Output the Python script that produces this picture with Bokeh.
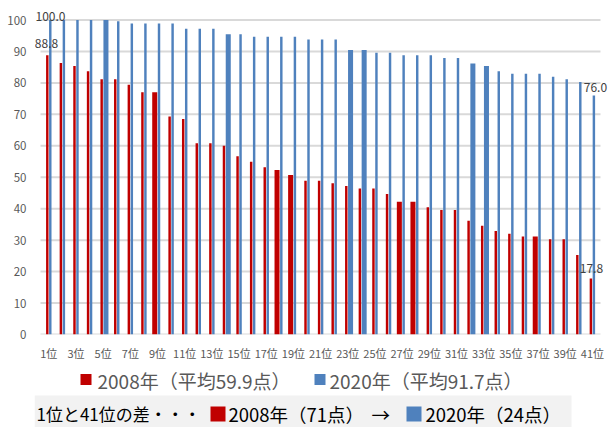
from bokeh.plotting import figure
from bokeh.layouts import column
from bokeh.models import FixedTicker, Label, ColumnDataSource, Range1d
from bokeh.core.properties import value
from bokeh.embed import file_html
from bokeh.resources import INLINE

# ---------------- data ----------------
ranks = list(range(1, 42))
rank_labels = [f"{r}位" for r in ranks]
tick_ranks = [r for r in ranks if r % 2 == 1]

score_2008 = [88.8, 86.3, 85.4, 83.7, 81.2, 81.2, 79.4, 77.0, 77.0, 69.3,
              68.5, 60.8, 60.8, 60.0, 56.7, 54.9, 53.2, 52.3, 50.7, 48.9,
              48.9, 48.1, 47.2, 46.4, 46.4, 44.7, 42.2, 42.2, 40.5, 39.6,
              39.6, 36.2, 34.6, 32.9, 32.0, 31.2, 31.2, 30.3, 30.3, 25.3, 17.8]
score_2020 = [100.0, 100.0, 100.0, 100.0, 100.0, 99.6, 98.9, 98.9, 98.9, 98.9,
              97.2, 97.2, 97.2, 95.5, 95.5, 94.7, 94.7, 94.7, 94.7, 93.8,
              93.8, 93.8, 90.5, 90.5, 89.6, 89.6, 88.8, 88.8, 88.8, 87.9,
              87.9, 86.2, 85.4, 83.7, 82.9, 82.9, 82.9, 82.0, 81.2, 80.3, 76.0]
highlight_2008 = [9, 18, 19, 27, 28, 37]
highlight_2020 = [5, 14, 23, 24, 32, 33]

legend_2008 = "2008年（平均59.9点）"
legend_2020 = "2020年（平均91.7点）"
footer_title = "1位と41位の差・・・"
footer_2008 = "2008年（71点）"
footer_2020 = "2020年（24点）"
footer_arrow = "→"

y_ticks = list(range(0, 101, 10))

# ---------------- style ----------------
RED = "#C00000"
BLUE = "#4F81BD"
GRID = "#d9d9d9"
FONT = "Noto Sans CJK JP"
THIN = 0.18
THICK = 0.37
GAP = 0.02

w08 = [THICK if r in highlight_2008 else THIN for r in ranks]
w20 = [THICK if r in highlight_2020 else THIN for r in ranks]
src08 = ColumnDataSource(dict(x=[r - w / 2 - GAP for r, w in zip(ranks, w08)],
                              top=score_2008, w=w08))
src20 = ColumnDataSource(dict(x=[r + w / 2 + GAP for r, w in zip(ranks, w20)],
                              top=score_2020, w=w20))

W = 608
LEFT = 34
H_MAIN = 363
H_FOOT = 427 - H_MAIN

p = figure(width=W, height=H_MAIN,
           x_range=Range1d(-0.052, 42.185), y_range=Range1d(0, 106.21),
           output_backend="svg", toolbar_location=None,
           min_border_left=LEFT, min_border_right=0,
           min_border_top=0, min_border_bottom=H_MAIN - 335)
p.outline_line_color = None
p.background_fill_color = "white"
p.border_fill_color = "white"

# horizontal gridlines across the category area
p.segment(x0=0.389, x1=41.596, y0=y_ticks, y1=y_ticks,
          line_color=GRID, line_width=2)
p.xgrid.grid_line_color = None
p.ygrid.grid_line_color = None

r08 = p.vbar(x="x", top="top", width="w", bottom=0, source=src08,
             fill_color=RED, line_color=None)
r20 = p.vbar(x="x", top="top", width="w", bottom=0, source=src20,
             fill_color=BLUE, line_color=None)

# axes
p.xaxis.ticker = FixedTicker(ticks=tick_ranks)
p.xaxis.major_label_overrides = {r: rank_labels[r - 1] for r in tick_ranks}
p.yaxis.ticker = FixedTicker(ticks=y_ticks)
for ax in (p.xaxis, p.yaxis):
    ax.axis_line_color = None
    ax.major_tick_line_color = None
    ax.minor_tick_line_color = None
    ax.major_tick_out = 0
    ax.major_tick_in = 0
    ax.major_label_text_color = "#595959"
    ax.major_label_text_font = FONT
p.xaxis.major_label_text_font_size = "11px"
p.yaxis.major_label_text_font_size = "11.5px"
p.xaxis.major_label_standoff = 10
p.yaxis.major_label_standoff = 8

# data labels (first and last of each series)
def data_label(x, y, xo, yo):
    p.add_layout(Label(x=x, y=y, x_offset=xo, y_offset=yo, text=f"{y:.1f}",
                       text_align="center", text_baseline="middle",
                       text_font=FONT, text_font_size="12px",
                       text_color="#404040"))

data_label(ranks[0], score_2008[0], -2.3, 12)
data_label(ranks[0], score_2020[0], 1.7, 4)
data_label(ranks[-1], score_2020[-1], 3, 8)
data_label(ranks[-1], score_2008[-1], -1, 10)

# ---------------- legend + footer (pixel coordinates, y downwards) ----------------
f = figure(width=W, height=H_FOOT, x_range=Range1d(LEFT, W), y_range=Range1d(H_FOOT, 0),
           output_backend="svg", toolbar_location=None,
           min_border_left=LEFT, min_border_right=0, min_border_top=0, min_border_bottom=0,
           x_axis_location=None, y_axis_location=None)
f.outline_line_color = None
f.xgrid.grid_line_color = None
f.ygrid.grid_line_color = None
f.border_fill_color = "white"
f.background_fill_color = "white"

# series legend
f.quad(left=[80, 314], right=[91, 325], top=[10.5, 10.5], bottom=[21.5, 21.5],
       fill_color=[RED, BLUE], line_color=None)
f.text(x=[97, 329], y=[16.5, 16.5], text=[legend_2008, legend_2020],
       text_font=value(FONT), text_font_size="19px", text_color="#595959",
       text_align="left", text_baseline="middle")

# grey summary box
f.quad(left=LEFT, right=571, top=32, bottom=H_FOOT, fill_color="#f2f2f2", line_color=None)
f.quad(left=[210, 406], right=[225, 421], top=[43, 43], bottom=[58, 58],
       fill_color=[RED, BLUE], line_color=None)
f.text(x=[36], y=[50], text=[footer_title],
       text_font=value(FONT), text_font_size="17px", text_color="#000000",
       text_align="left", text_baseline="middle")
f.text(x=[228, 371, 425], y=[50, 50, 50],
       text=[footer_2008, footer_arrow, footer_2020],
       text_font=value(FONT), text_font_size="18.5px", text_color="#000000",
       text_align="left", text_baseline="middle")

layout = column(p, f, spacing=0)
open("out.html", "w").write(file_html(layout, INLINE))
